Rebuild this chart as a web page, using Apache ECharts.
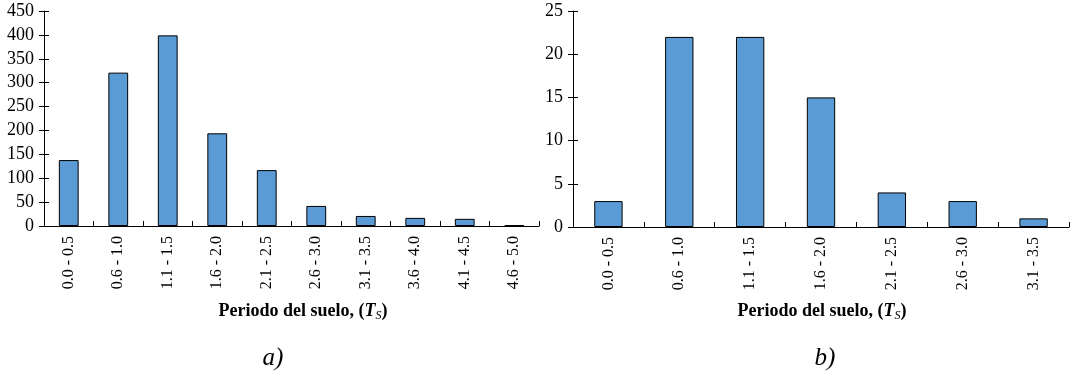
<!DOCTYPE html>
<html>
<head>
<meta charset="utf-8">
<script src="https://cdn.jsdelivr.net/npm/echarts@6/dist/echarts.min.js"></script>
<style>
  html, body { margin: 0; padding: 0; background: #fff; }
  #chart { width: 1077px; height: 377px; }
</style>
</head>
<body>
<div id="chart"></div>
<script>
var catsA = ["0.0 - 0.5", "0.6 - 1.0", "1.1 - 1.5", "1.6 - 2.0", "2.1 - 2.5",
  "2.6 - 3.0", "3.1 - 3.5", "3.6 - 4.0", "4.1 - 4.5", "4.6 - 5.0"];
var valsA = [138, 321, 399, 194, 117, 42, 21, 17, 15, 2];

var catsB = ["0.0 - 0.5", "0.6 - 1.0", "1.1 - 1.5", "1.6 - 2.0", "2.1 - 2.5",
  "2.6 - 3.0", "3.1 - 3.5"];
var valsB = [3, 22, 22, 15, 4, 3, 1];

var FONT = "Liberation Serif";
var chart = echarts.init(document.getElementById("chart"));

function xAx(grid, cats, ticksInside) {
  return {
    type: "category",
    gridIndex: grid,
    data: cats,
    boundaryGap: true,
    axisLine: { show: ticksInside, lineStyle: { color: "#000", width: 1 } },
    axisTick: { show: true, inside: ticksInside, length: ticksInside ? 5 : 3,
      lineStyle: { color: "#000", width: 1 } },
    axisLabel: { show: ticksInside, rotate: 90, margin: 10, fontFamily: FONT,
      fontSize: 16, color: "#000" },
    splitLine: { show: false }
  };
}
function yAx(grid, max, step, inside) {
  return {
    type: "value",
    gridIndex: grid,
    position: "left",
    min: 0, max: max, interval: step,
    axisLine: { show: !inside, lineStyle: { color: "#000", width: 1 } },
    axisTick: { show: true, inside: inside, length: 5, lineStyle: { color: "#000", width: 1 } },
    axisLabel: { show: !inside, margin: 10, fontFamily: FONT, fontSize: 18, color: "#000" },
    splitLine: { show: false }
  };
}

var titleRich = {
  b: { fontFamily: FONT, fontWeight: "bold", fontSize: 18, color: "#000" },
  i: { fontFamily: FONT, fontWeight: "bold", fontStyle: "italic", fontSize: 18, color: "#000" },
  s: { fontFamily: FONT, fontStyle: "italic", fontSize: 12, color: "#000", padding: [9, 0, 0, 0] }
};
function titleText(x) {
  return {
    type: "text", x: x, y: 311,
    style: { text: "{b|Periodo del suelo, (}{i|T}{s|S}{b|)}", rich: titleRich,
      align: "center", verticalAlign: "middle" }
  };
}
function panelLabel(x, t) {
  return {
    type: "text", x: x, y: 358,
    style: { text: t, fontFamily: FONT, fontStyle: "italic", fontSize: 25, fill: "#000",
      align: "center", verticalAlign: "middle" }
  };
}

var barStyle = { color: "#5B9BD5", borderColor: "#000", borderWidth: 1 };

chart.setOption({
  animation: false,
  grid: [
    { left: 44, top: 11, width: 495, height: 215 },
    { left: 573, top: 11, width: 496, height: 216 }
  ],
  xAxis: [xAx(0, catsA, true), xAx(0, catsA, false), xAx(1, catsB, true), xAx(1, catsB, false)],
  yAxis: [yAx(0, 450, 50, false), yAx(0, 450, 50, true), yAx(1, 25, 5, false), yAx(1, 25, 5, true)],
  series: [
    { type: "bar", xAxisIndex: 0, yAxisIndex: 0, data: valsA, barWidth: "40%", itemStyle: barStyle },
    { type: "bar", xAxisIndex: 2, yAxisIndex: 2, data: valsB, barWidth: "40%", itemStyle: barStyle }
  ],
  graphic: [titleText(303), titleText(822), panelLabel(273, "a)"), panelLabel(825, "b)")]
});
</script>
</body>
</html>
